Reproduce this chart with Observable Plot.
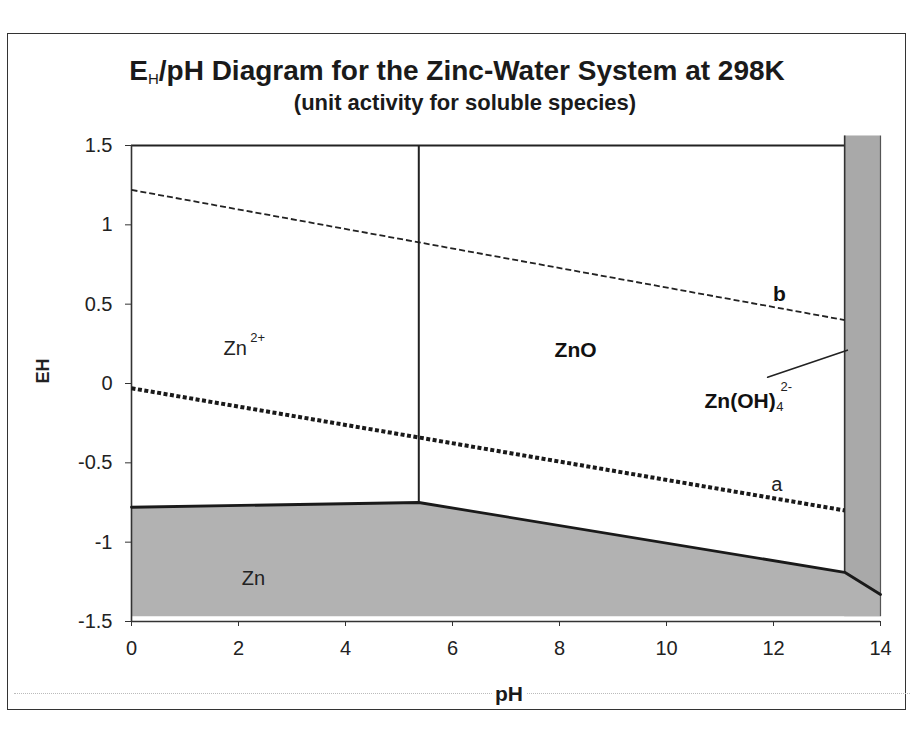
<!DOCTYPE html>
<html>
<head>
<meta charset="utf-8">
<script src="https://cdn.jsdelivr.net/npm/d3@7"></script>
<script src="https://cdn.jsdelivr.net/npm/@observablehq/plot@0.6"></script>
<style>
  html, body { margin: 0; padding: 0; background: #fff; }
  body { width: 914px; height: 731px; position: relative; overflow: hidden; font-family: "Liberation Sans", Arial, sans-serif; }
  #frame { position: absolute; left: 7px; top: 33px; width: 899px; height: 677px; border: 1.5px solid #333; box-sizing: border-box; }
  #title { position: absolute; left: 0; width: 914px; top: 55px; text-align: center; font-weight: bold; font-size: 28px; line-height: 32px; color: #1a1a1a; white-space: nowrap; }
  #title sub { font-size: 15px; vertical-align: -4px; font-weight: normal; line-height: 0; }
  #subtitle { position: absolute; left: 8px; width: 914px; top: 90px; text-align: center; font-weight: bold; font-size: 22px; line-height: 25px; color: #1a1a1a; white-space: nowrap; }
  #chart { position: absolute; left: 0; top: 120px; }
  #xlab { position: absolute; left: 492px; top: 682px; font-weight: bold; font-size: 21px; line-height: 24px; color: #1a1a1a; background: #fff; padding: 0 3px; }
  #scanline { position: absolute; left: 14px; width: 896px; top: 693px; border-top: 1.5px dotted #bbb; }
</style>
</head>
<body>
<div id="frame"></div>
<div id="title">E<sub>H</sub>/pH Diagram for the Zinc-Water System at 298K</div>
<div id="subtitle">(unit activity for soluble species)</div>
<div id="chart"></div>
<div id="scanline"></div>
<div id="xlab">pH</div>
<script>
// ---- data ----
const xTicks = [0, 2, 4, 6, 8, 10, 12, 14];
const yTicks = [1.5, 1, 0.5, 0, -0.5, -1, -1.5];
const yTickLabels = ["1.5", "1", "0.5", "0", "-0.5", "-1", "-1.5"];

// Zn / soluble-species boundary (pH, EH)
const znBoundaryPH = [0, 5.37, 13.33, 14];
const znBoundaryEH = [-0.78, -0.75, -1.19, -1.33];
const regionBottomEH = -1.47;

// Zn2+/ZnO vertical boundary
const znoBoundaryPH = 5.37;
const znoBoundaryTop = 1.5;
const znoBoundaryBottom = -0.75;

// ZnO / Zn(OH)4 2- boundary band
const zincateFromPH = 13.33;
const zincateToPH = 14;
const zincateTopEH = 1.56;

// water stability lines
const lineBPH = [0, 13.33];
const lineBEH = [1.22, 0.40];
const lineAPH = [0, 13.33];
const lineAEH = [-0.03, -0.80];

// leader line for Zn(OH)4 2- label
const leaderPH = [11.89, 13.38];
const leaderEH = [0.04, 0.21];

// main labels (centered)
const labelText = ["Zn", "ZnO", "b", "a", "Zn"];
const labelPH = [1.94, 8.3, 12.11, 12.06, 2.28];
const labelEH = [0.22, 0.21, 0.56, -0.64, -1.23];
const labelBold = [false, true, true, false, false];

// label ending at its anchor
const zincateText = ["Zn(OH)"];
const zincatePH = [12.04];
const zincateEH = [-0.11];

// sub/superscripts
const scriptText = ["2+", "4", "2-"];
const scriptPH = [2.22, 12.05, 12.13];
const scriptEH = [0.285, -0.15, -0.02];

// ---- build ----
const zn = znBoundaryPH.map((x, i) => ({x, y1: regionBottomEH, y2: znBoundaryEH[i]}));
const boundary = znBoundaryPH.map((x, i) => ({x, y: znBoundaryEH[i]}));
const lineB = lineBPH.map((x, i) => ({x, y: lineBEH[i]}));
const lineA = lineAPH.map((x, i) => ({x, y: lineAEH[i]}));
const leader = leaderPH.map((x, i) => ({x, y: leaderEH[i]}));
const labels = labelText.map((t, i) => ({t, x: labelPH[i], y: labelEH[i], b: labelBold[i]}));
const zincateLabel = zincateText.map((t, i) => ({t, x: zincatePH[i], y: zincateEH[i]}));
const scripts = scriptText.map((t, i) => ({t, x: scriptPH[i], y: scriptEH[i], b: i > 0}));

const gray = "#b2b2b2";
const font = "'Liberation Sans', Arial, sans-serif";

const plot = Plot.plot({
  width: 914,
  height: 611,
  marginTop: 25,
  marginBottom: 110,
  marginLeft: 131,
  marginRight: 34,
  x: {domain: [0, 14], label: null},
  y: {domain: [-1.5, 1.5], label: null},
  style: {fontFamily: font, fontSize: "20px", color: "#222", overflow: "visible", background: "transparent"},
  marks: [
    // zincate band
    Plot.rectY([{x1: zincateFromPH, x2: zincateToPH, y1: regionBottomEH, y2: zincateTopEH}], {x1: "x1", x2: "x2", y1: "y1", y2: "y2", fill: "#a9a9a9"}),
    // Zn region
    Plot.areaY(zn, {x: "x", y1: "y1", y2: "y2", fill: gray}),
    // frame lines
    Plot.ruleY([1.5], {x1: 0, x2: zincateFromPH, stroke: "#222", strokeWidth: 1.8}),
    Plot.ruleX([0], {y1: -1.5, y2: 1.5, stroke: "#333", strokeWidth: 1.6}),
    Plot.ruleY([-1.5], {x1: 0, x2: 14, stroke: "#333", strokeWidth: 1.6}),
    Plot.ruleX([zincateToPH], {y1: regionBottomEH, y2: zincateTopEH, stroke: "#555", strokeWidth: 1.2}),
    Plot.ruleX([zincateFromPH], {y1: znBoundaryEH[2], y2: zincateTopEH, stroke: "#333", strokeWidth: 1.6}),
    // Zn2+/ZnO boundary
    Plot.ruleX([znoBoundaryPH], {y1: znoBoundaryBottom, y2: znoBoundaryTop, stroke: "#222", strokeWidth: 2}),
    // Zn boundary
    Plot.line(boundary, {x: "x", y: "y", stroke: "#1a1a1a", strokeWidth: 2.8}),
    // water lines
    Plot.line(lineB, {x: "x", y: "y", stroke: "#222", strokeWidth: 1.8, strokeDasharray: "6,3", strokeLinecap: "butt"}),
    Plot.line(lineA, {x: "x", y: "y", stroke: "#1a1a1a", strokeWidth: 4, strokeDasharray: "4,2.5", strokeLinecap: "butt"}),
    // leader
    Plot.line(leader, {x: "x", y: "y", stroke: "#222", strokeWidth: 1.6}),
    // axes
    Plot.axisX({ticks: xTicks, tickFormat: d => String(d), tickSize: 5, tickPadding: 14, fontSize: 20, stroke: "#333"}),
    Plot.axisY({ticks: yTicks, tickFormat: d => yTickLabels[yTicks.indexOf(d)], tickSize: 6, tickPadding: 13, fontSize: 20, stroke: "#333"}),
    // y label
    Plot.text(["EH"], {frameAnchor: "left", dx: -88, rotate: -90, fontSize: 18, fontWeight: "bold", fill: "#222"}),
    // region labels
    Plot.text(labels.filter(d => d.b), {x: "x", y: "y", text: "t", fontSize: 21, fontWeight: "bold", fill: "#111"}),
    Plot.text(labels.filter(d => !d.b), {x: "x", y: "y", text: "t", fontSize: 20, fill: "#222"}),
    Plot.text(zincateLabel, {x: "x", y: "y", text: "t", textAnchor: "end", fontSize: 21, fontWeight: "bold", fill: "#111"}),
    Plot.text(scripts, {x: "x", y: "y", text: "t", textAnchor: "start", fontSize: 13, fontWeight: d => d.b ? "bold" : "normal", fill: "#222"})
  ]
});
document.getElementById("chart").appendChild(plot);
</script>
</body>
</html>
